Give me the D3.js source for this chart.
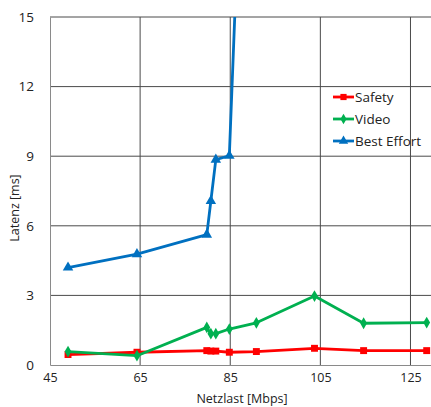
<!DOCTYPE html>
<html>
<head>
<meta charset="utf-8">
<script src="https://cdn.jsdelivr.net/npm/d3@7"></script>
<style>
  body { margin: 0; background: #fff; }
  text { font-family: "Open Sans", "Liberation Sans", sans-serif; fill: #222; }
</style>
</head>
<body>
<svg id="chart"></svg>
<script>
// Data
const xTicks = [45, 65, 85, 105, 125];
const yTicks = [0, 3, 6, 9, 12, 15];

const safetyX = [49, 64.3, 79.8, 80.7, 81.8, 84.8, 90.8, 103.7, 114.6, 128.6];
const safetyY = [0.45, 0.55, 0.62, 0.6, 0.6, 0.55, 0.58, 0.72, 0.62, 0.62];

const videoX = [49, 64.3, 79.8, 80.7, 81.8, 84.8, 90.8, 103.7, 114.6, 128.6];
const videoY = [0.58, 0.4, 1.62, 1.35, 1.35, 1.55, 1.82, 2.97, 1.8, 1.83];

const bestX = [49, 64.3, 79.8, 80.7, 81.8, 84.8, 87];
const bestY = [4.2, 4.78, 5.62, 7.07, 8.85, 9.02, 20];

const seriesNames = ["Safety", "Video", "Best Effort"];
const seriesColors = ["#ff0000", "#00b050", "#0070c0"];

const W = 431, H = 407;
const margin = {top: 17, right: -2, bottom: 42, left: 50};
const width = W - margin.left - margin.right;
const height = H - margin.top - margin.bottom;

const svg = d3.select("#chart").attr("width", W).attr("height", H);
const g = svg.append("g").attr("transform", `translate(${margin.left},${margin.top})`);

const x = d3.scaleLinear().domain([45, 130]).range([0, width]);
const y = d3.scaleLinear().domain([0, 15]).range([height, 0]);

// grid
g.selectAll(".vgrid").data(xTicks.slice(1)).join("line")
  .attr("x1", d => x(d)).attr("x2", d => x(d))
  .attr("y1", 0).attr("y2", height)
  .attr("stroke", "#4a4a4a").attr("stroke-width", 1);
g.selectAll(".hgrid").data(yTicks.slice(1)).join("line")
  .attr("x1", 0).attr("x2", width)
  .attr("y1", d => y(d)).attr("y2", d => y(d))
  .attr("stroke", "#4a4a4a").attr("stroke-width", 1);

// axes
const xAxis = g.append("g").attr("transform", `translate(0,${height})`)
  .call(d3.axisBottom(x).tickValues(xTicks).tickSize(0).tickPadding(8));
const yAxis = g.append("g")
  .call(d3.axisLeft(y).tickValues(yTicks).tickSize(0).tickPadding(16));
[xAxis, yAxis].forEach(a => {
  a.select(".domain").attr("stroke", "#8a8a8a");
  a.selectAll("text").attr("font-size", 13.5).attr("fill", "#222")
    .attr("font-family", "'Open Sans', sans-serif");
});
xAxis.selectAll("text").attr("font-size", 12.5);

// axis titles
svg.append("text").attr("x", 242).attr("y", 403).attr("text-anchor", "middle")
  .attr("font-size", 12.5).text("Netzlast [Mbps]");
svg.append("text").attr("transform", "translate(19,208) rotate(-90)")
  .attr("text-anchor", "middle").attr("font-size", 12.5).text("Latenz [ms]");

// clip
svg.append("clipPath").attr("id", "clip").append("rect")
  .attr("x", -5).attr("y", 0).attr("width", width + 10).attr("height", height + 5);

const plot = g.append("g").attr("clip-path", "url(#clip)");
const line = d3.line().x(d => x(d[0])).y(d => y(d[1]));

const series = [
  d3.zip(safetyX, safetyY),
  d3.zip(videoX, videoY),
  d3.zip(bestX, bestY)
];
const symbols = [d3.symbolSquare, d3.symbolDiamond, d3.symbolTriangle];
const symSizes = [48, 40, 48];

series.forEach((pts, i) => {
  plot.append("path").datum(pts)
    .attr("fill", "none").attr("stroke", seriesColors[i])
    .attr("stroke-width", 2.8).attr("stroke-linejoin", "round")
    .attr("d", line);
  plot.selectAll(".m" + i).data(pts).join("path")
    .attr("transform", d => `translate(${x(d[0])},${y(d[1])})`)
    .attr("d", d3.symbol(symbols[i], symSizes[i]))
    .attr("fill", seriesColors[i]);
});

// legend
const legend = svg.append("g").attr("transform", "translate(333,97)");
seriesNames.forEach((name, i) => {
  const row = legend.append("g").attr("transform", `translate(0,${i * 22})`);
  row.append("line").attr("x1", 0).attr("x2", 21).attr("y1", 0).attr("y2", 0)
    .attr("stroke", seriesColors[i]).attr("stroke-width", 2.8);
  row.append("path").attr("transform", "translate(10.5,0)")
    .attr("d", d3.symbol(symbols[i], symSizes[i] * 0.8)).attr("fill", seriesColors[i]);
  row.append("text").attr("x", 22).attr("y", 5).attr("font-size", 13.5).text(name);
});
</script>
</body>
</html>
